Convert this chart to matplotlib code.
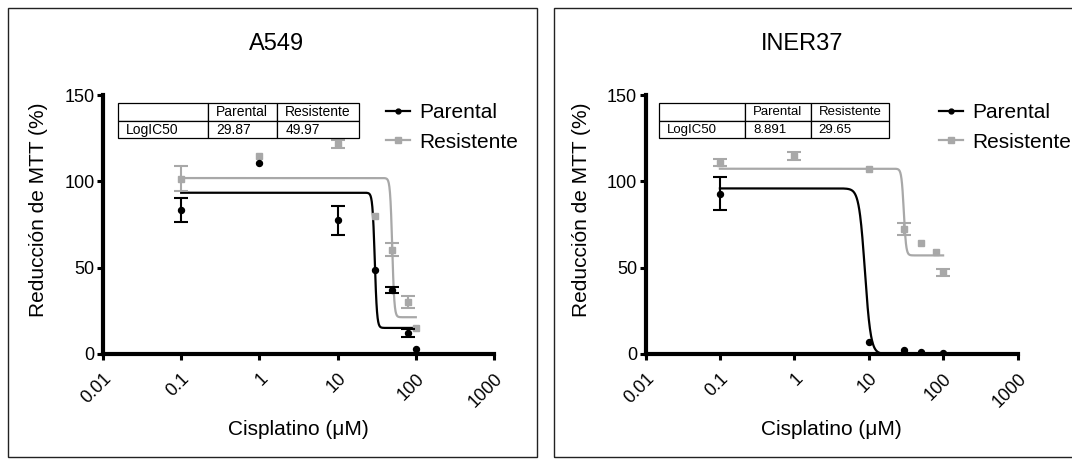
import numpy as np
import matplotlib
matplotlib.use("Agg")
import matplotlib.pyplot as plt
from matplotlib.lines import Line2D
from matplotlib.patches import Rectangle

plt.rcParams['font.family'] = ['Liberation Sans', 'DejaVu Sans']

# concentraciones de cisplatino (uM)
conc = [0.1, 1, 10, 30, 50, 80, 100]

# A549
a549_par = [83.4, 110.6, 77.4, 48.5, 37.1, 12.0, 2.7]
a549_par_err = [7.1, 0, 8.2, 0, 1.9, 2.3, 0]
a549_res = [101.5, 114.8, 121.4, 80.1, 60.4, 29.9, 15.2]
a549_res_err = [7.3, 0, 2.3, 0, 3.8, 3.5, 0]

# INER37
iner_par = [92.8, np.nan, 7.1, 2.3, 1.0, np.nan, 0.4]
iner_par_err = [9.5, 0, 0, 0, 0, 0, 0]
iner_res = [110.8, 114.8, 107.3, 72.4, 64.3, 58.9, 47.3]
iner_res_err = [2.0, 2.3, 0, 3.2, 0, 0, 2.0]

# parametros de ajuste: top, bottom, IC50, hill
a549_par_fit = (93.4, 15.1, 29.87, 30)
a549_res_fit = (101.9, 21.3, 49.97, 32)
iner_par_fit = (95.9, 0.0, 8.891, 11)
iner_res_fit = (107.3, 57.1, 29.65, 28)

table_head = ["", "Parental", "Resistente"]
a549_table = ["LogIC50", "29.87", "49.97"]
iner_table = ["LogIC50", "8.891", "29.65"]

xticks = [0.01, 0.1, 1, 10, 100, 1000]
xticklabels = ["0.01", "0.1", "1", "10", "100", "1000"]
yticks = [0, 50, 100, 150]

black = "#000000"
gray = "#a8a8a8"
W, H = 1072, 459


def fit_curve(p):
    top, bottom, ic50, hill = p
    xs = np.logspace(-1, 2, 800)
    ys = bottom + (top - bottom) / (1 + 10 ** ((np.log10(xs) - np.log10(ic50)) * hill))
    return xs, ys


def points(ax, y, err, color, marker, ms, z):
    x = np.array(conc)
    y = np.array(y)
    err = np.array(err)
    ax.plot(x, y, marker, color=color, ms=ms, zorder=z)
    m = err > 0
    ax.errorbar(x[m], y[m], yerr=err[m], fmt="none", ecolor=color, elinewidth=1.5,
                capsize=5, capthick=1.5, zorder=z)


def panel(ax, par, par_err, res, res_err, pfit, rfit, trow, colpx, ylab_x, leg_x, tfs):
    xs, ys = fit_curve(rfit)
    ax.plot(xs, ys, color=gray, lw=1.6, zorder=2)
    xs, ys = fit_curve(pfit)
    ax.plot(xs, ys, color=black, lw=1.6, zorder=3)
    points(ax, res, res_err, gray, "s", 4.8, 4)
    points(ax, par, par_err, black, "o", 4.3, 5)

    ax.set_xscale("log")
    ax.set_xlim(0.01, 1000)
    ax.set_ylim(0, 150)
    ax.set_xticks(xticks)
    ax.set_xticklabels(xticklabels)
    ax.minorticks_off()
    ax.set_yticks(yticks)
    for s in ["top", "right"]:
        ax.spines[s].set_visible(False)
    for s in ["left", "bottom"]:
        ax.spines[s].set_linewidth(3)
    ax.tick_params(axis="both", width=2.2, labelsize=13, pad=2)
    ax.tick_params(axis="x", length=4.5, pad=7)
    ax.tick_params(axis="y", length=4)
    for lab in ax.get_xticklabels():
        lab.set_rotation(45)
        lab.set_ha("right")
        lab.set_rotation_mode("anchor")

    ax.set_xlabel("Cisplatino (\u03bcM)", fontsize=15)
    ax.xaxis.set_label_coords(0.5, -0.293)
    ax.xaxis.label.set_va("center")
    ax.set_ylabel("Reducción de MTT (%)", fontsize=15)
    ax.yaxis.set_label_coords(ylab_x, 0.558)
    ax.yaxis.label.set_va("center")

    # tabla de IC50
    x0, x1, x2, x3 = colpx
    left_px = ax.get_position().x0 * W
    wid_px = ax.get_position().width * W
    widths = [x1 - x0, x2 - x1, x3 - x2]
    tb = ax.table(cellText=[table_head, trow], cellLoc="left",
                  colWidths=[w / wid_px for w in widths],
                  bbox=[(x0 - left_px) / wid_px, 0.833, (x3 - x0) / wid_px, 0.135])
    tb.auto_set_font_size(False)
    tb.set_fontsize(tfs)
    for (r, c), cell in tb.get_celld().items():
        cell.set_linewidth(0.9)
        cell.PAD = 8 / widths[c]
    tb.set_zorder(6)

    handles = [Line2D([], [], color=black, marker="o", ms=3.5, lw=1.6),
               Line2D([], [], color=gray, marker="s", ms=3.8, lw=1.6)]
    ax.legend(handles, ["Parental", "Resistente"], loc="upper left",
              bbox_to_anchor=(leg_x, 0.968), frameon=False, fontsize=15,
              handlelength=1.15, handletextpad=0.45, labelspacing=0.5,
              borderpad=0, borderaxespad=0)


fig = plt.figure(figsize=(W / 100, H / 100), dpi=100)
ax1 = fig.add_axes([103 / W, 105 / H, 391 / W, 259 / H])
ax2 = fig.add_axes([645.5 / W, 105 / H, 372 / W, 259 / H])

panel(ax1, a549_par, a549_par_err, a549_res, a549_res_err, a549_par_fit, a549_res_fit,
      a549_table, (117.7, 208.3, 277.2, 359.2), -0.164, 0.724, 10)
panel(ax2, iner_par, iner_par_err, iner_res, iner_res_err, iner_par_fit, iner_res_fit,
      iner_table, (659, 745.2, 810.5, 889.2), -0.171, 0.789, 9.5)

fig.text(277 / W, 1 - 44 / H, "A549", fontsize=17, ha="center", va="center")
fig.text(802 / W, 1 - 44 / H, "INER37", fontsize=17, ha="center", va="center")

# marcos de cada panel
fig.patches.append(Rectangle((8 / W, 2 / H), 529 / W, 449 / H, transform=fig.transFigure,
                             fill=False, ec="#222222", lw=1))
fig.patches.append(Rectangle((554 / W, 2 / H), 529 / W, 449 / H, transform=fig.transFigure,
                             fill=False, ec="#222222", lw=1))

fig.savefig("out.png", dpi=100)
